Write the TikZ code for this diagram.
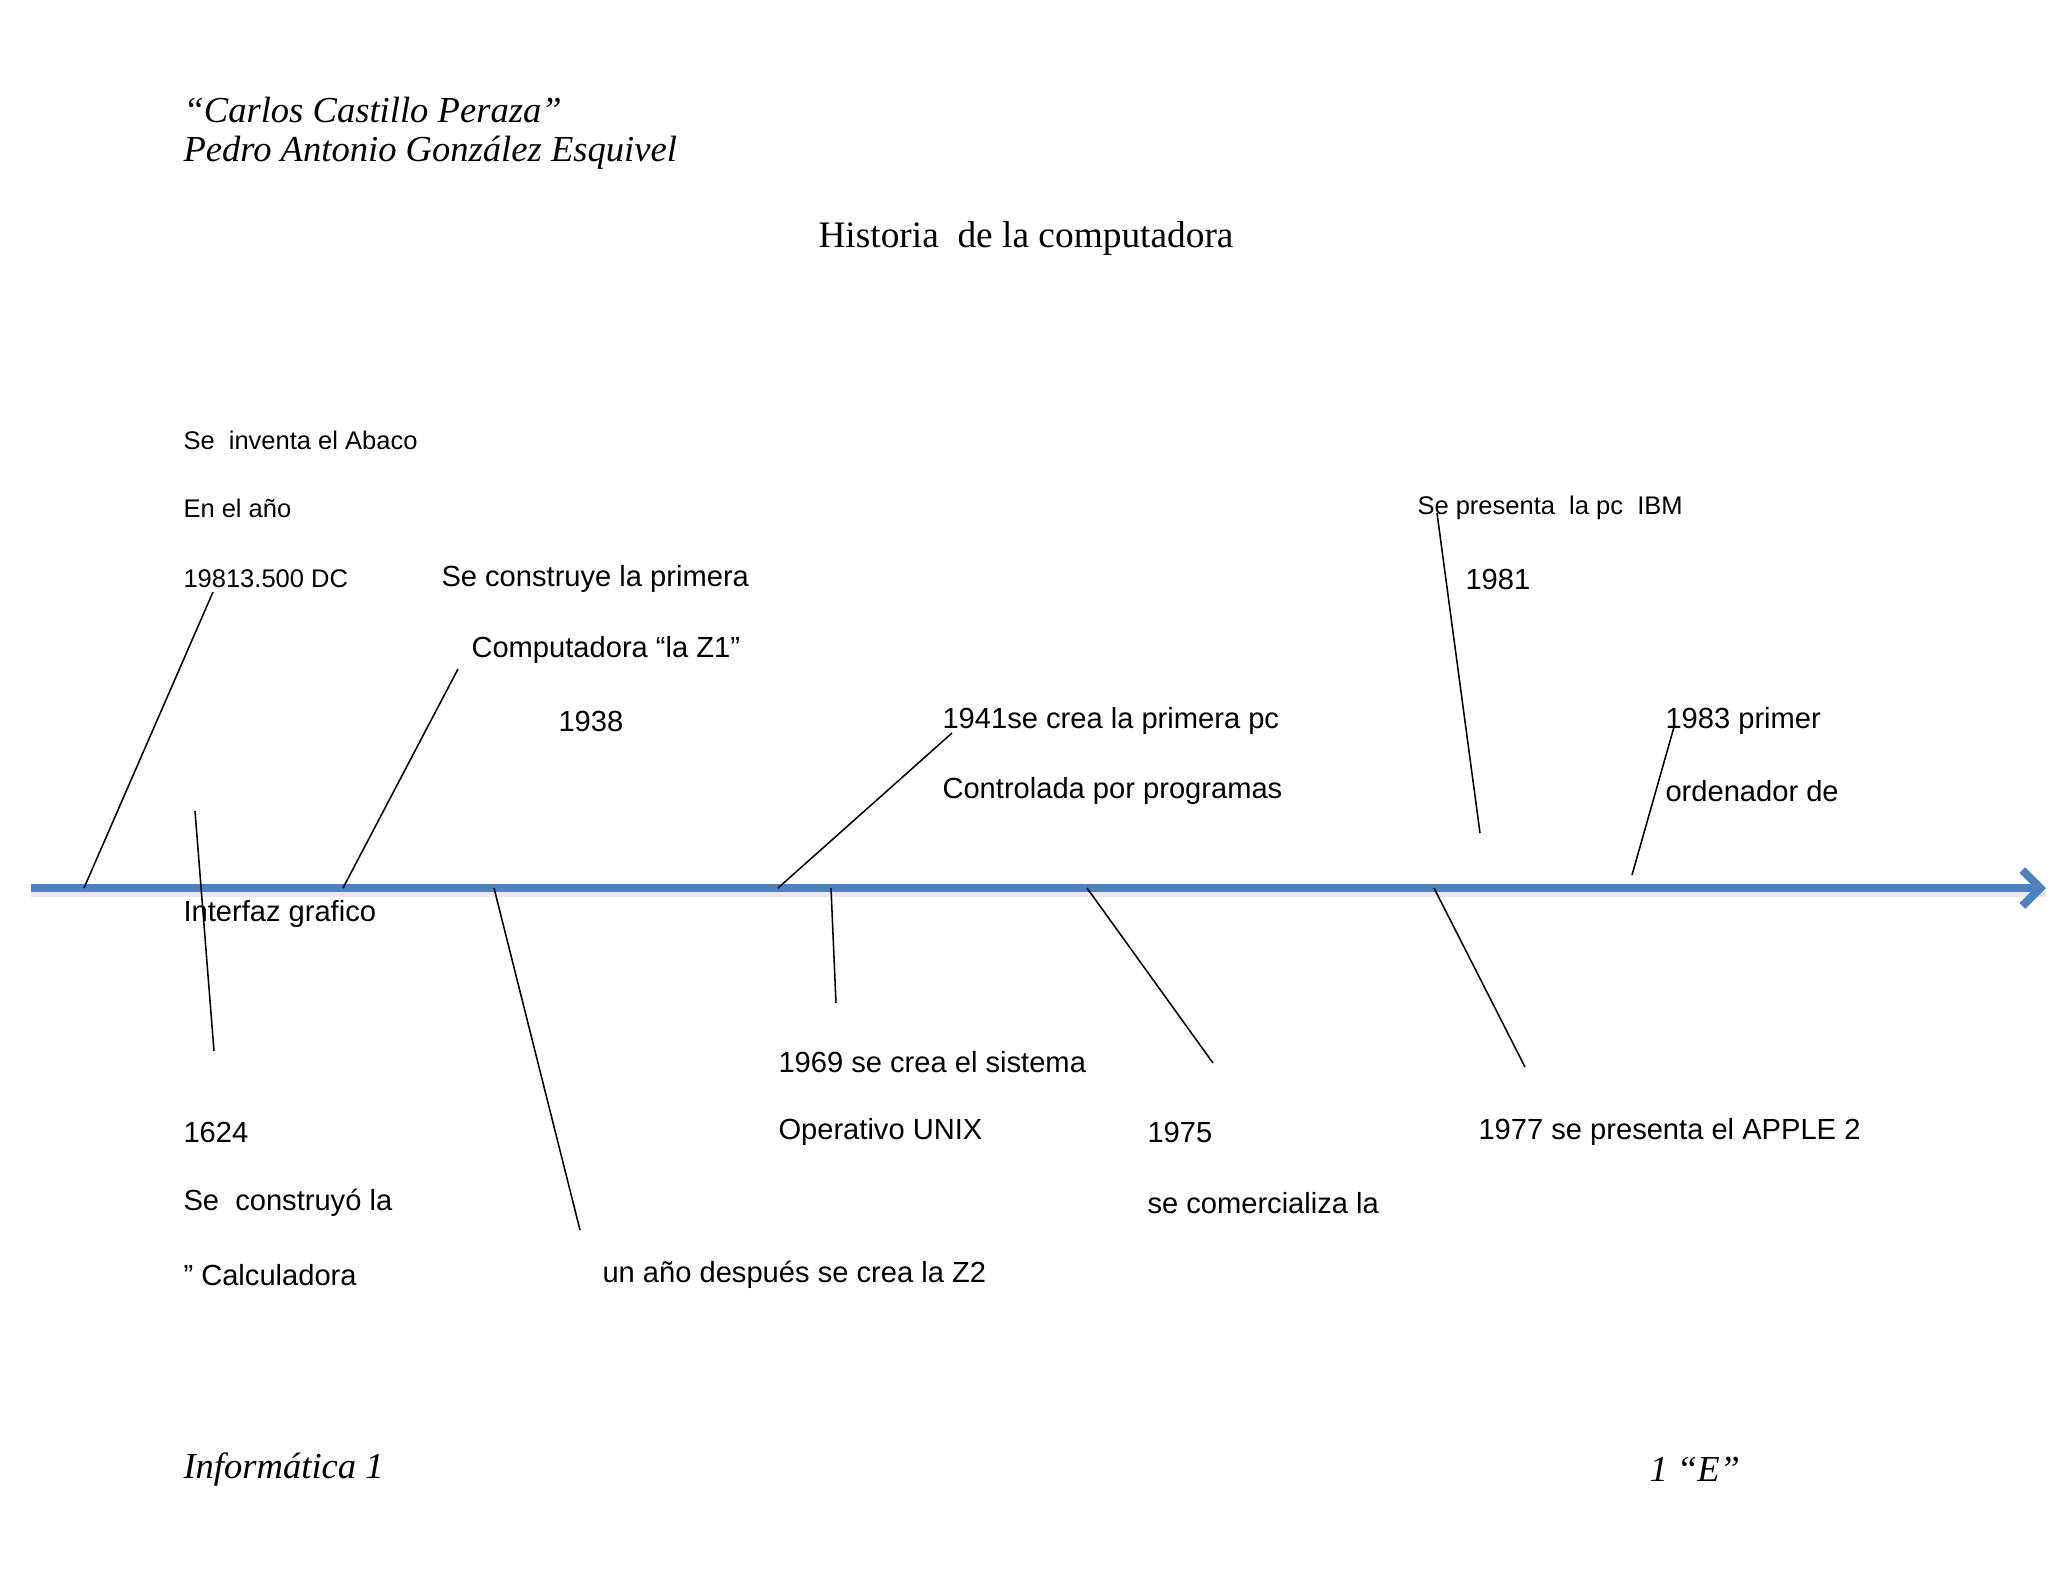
\documentclass[tikz,border=0pt]{standalone}
\usepackage{fontspec}
\setmainfont{Liberation Serif}
\newfontfamily\comicfont{Liberation Sans}
\usetikzlibrary{arrows.meta}
\definecolor{axisblue}{RGB}{79,129,189}

\begin{document}
\begin{tikzpicture}[x=0.013643cm, y=-0.013643cm,
  every node/.style={inner sep=0pt, anchor=west},
  lbl/.style={font=\comicfont\fontsize{11.3}{13}\selectfont},
  smalllbl/.style={font=\comicfont\fontsize{9.9}{11}\selectfont},
  head/.style={font=\itshape\fontsize{14.2}{17}\selectfont},
  tick/.style={black, line width=0.6pt}]
\useasboundingbox (0,0) rectangle (2048,1582);
% Header
\node[head] (school) at (183,110) {“Carlos Castillo Peraza”};
\node[head] (student) at (183,153) {Pedro Antonio González Esquivel};
\node[font=\fontsize{14.5}{17}\selectfont] (title) at (818,239) {Historia\ \ de la computadora};
% Timeline
\coordinate (tlstart) at (31,888);
\coordinate (tlend) at (2046,888);
\draw[line width=2pt, gray!18] ([yshift=-2.6pt]tlstart) -- ([yshift=-2.6pt]tlend);
\draw[line width=3.1pt, axisblue, -{Straight Barb[length=7pt,width=14pt]}] (tlstart) -- (tlend);
% Events above the line
\node[smalllbl] (abaco1) at (183,440) {Se\ \ inventa el Abaco};
\node[smalllbl] (abaco2) at (183,508) {En el año};
\node[smalllbl] (abaco3) at (183,579) {19813.500 DC};
\node[lbl] (zone1) at (441,579) {Se construye la primera};
\node[lbl] (zone2) at (471,650) {Computadora “la Z1”};
\node[lbl] (zone3) at (558,721) {1938};
\node[lbl] (pc1) at (942,721) {1941se crea la primera pc};
\node[lbl] (pc2) at (942,791) {Controlada por programas};
\node[smalllbl] (ibm1) at (1417,508) {Se presenta\ \ la pc\ \ IBM};
\node[lbl] (ibm2) at (1465,579) {1981};
\node[lbl] (gui1) at (1665,721) {1983 primer};
\node[lbl] (gui2) at (1665,791) {ordenador de};
\node[lbl] (gui3) at (183,914) {Interfaz grafico};
% Events below the line
\node[lbl] (calc1) at (183,1132) {1624};
\node[lbl] (calc2) at (183,1203) {Se\ \ construyó la};
\node[lbl] (calc3) at (183,1275) {” Calculadora};
\node[lbl] (ztwo) at (602,1275) {un año después se crea la Z2};
\node[lbl] (unix1) at (778,1062) {1969 se crea el sistema};
\node[lbl] (unix2) at (778,1132) {Operativo UNIX};
\node[lbl] (micro1) at (1147,1132) {1975};
\node[lbl] (micro2) at (1147,1203) {se comercializa la};
\node[lbl] (apple) at (1478,1132) {1977 se presenta el APPLE 2};
% Pointer lines
\coordinate (abacoA) at (84,888);   \coordinate (abacoB) at (213,592);
\coordinate (zoneA) at (343,888);   \coordinate (zoneB) at (458,669);
\coordinate (calcA) at (195,811);   \coordinate (calcB) at (214,1051);
\coordinate (ztwoA) at (494,888);   \coordinate (ztwoB) at (580,1230);
\coordinate (pcA) at (778,888);     \coordinate (pcB) at (952,733);
\coordinate (unixA) at (831,888);   \coordinate (unixB) at (836,1003);
\coordinate (microA) at (1087,888); \coordinate (microB) at (1213,1063);
\coordinate (appleA) at (1434,888); \coordinate (appleB) at (1525,1067);
\coordinate (ibmA) at (1437,513);   \coordinate (ibmB) at (1480,833);
\coordinate (guiA) at (1674,727);   \coordinate (guiB) at (1632,875);
\draw[tick] (abacoA) -- (abacoB);
\draw[tick] (zoneA) -- (zoneB);
\draw[tick] (calcA) -- (calcB);
\draw[tick] (ztwoA) -- (ztwoB);
\draw[tick] (pcA) -- (pcB);
\draw[tick] (unixA) -- (unixB);
\draw[tick] (microA) -- (microB);
\draw[tick] (appleA) -- (appleB);
\draw[tick] (ibmA) -- (ibmB);
\draw[tick] (guiA) -- (guiB);
% Footer
\node[head] (subject) at (183,1469) {Informática 1};
\node[head] (group) at (1649,1469) {1 “E”};
\end{tikzpicture}
\end{document}
